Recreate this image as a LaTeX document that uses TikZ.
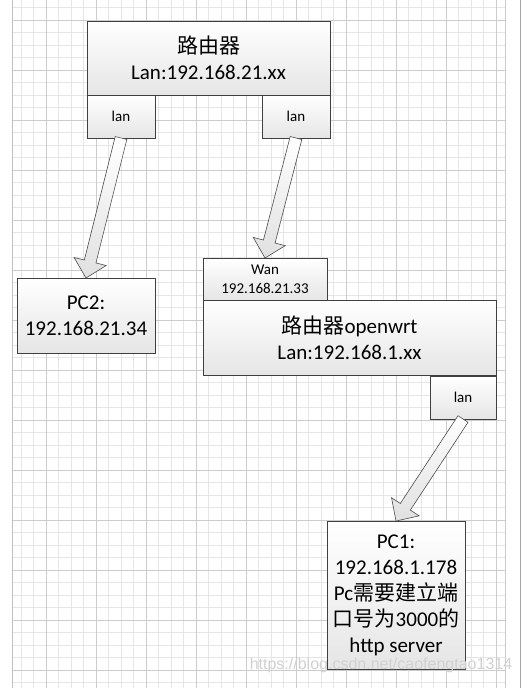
\documentclass[tikz,border=0pt]{standalone}
\usepackage{fontspec}
\setmainfont{Carlito}
\newfontfamily\cjk{Noto Sans CJK SC}
\newfontfamily\wmfont{Liberation Sans}
\usetikzlibrary{calc}
\newcommand\blockarr[2]{%
  \coordinate (nk) at ($(#2)!17pt!(#1)$);
  \path[blockarrow] ($(#1)!6pt!90:(#2)$) -- ($(nk)!6pt!90:(#2)$) -- ($(nk)!16.5pt!90:(#2)$)
    -- (#2) -- ($(nk)!16.5pt!-90:(#2)$) -- ($(nk)!6pt!-90:(#2)$) -- ($(#1)!6pt!-90:(#2)$) -- cycle;}
\begin{document}
\begin{tikzpicture}[x=1pt,y=-1pt,
  box/.style={draw=black!75, line width=0.8pt, top color=white, bottom color=black!10,
    anchor=north west, inner sep=0pt, outer sep=0pt, align=center,
    font=\fontsize{21}{26}\selectfont},
  smallbox/.style={box, font=\fontsize{15}{19}\selectfont},
  blockarrow/.style={draw=black!70, line width=0.6pt, top color=white, bottom color=black!12,
    line join=miter},
  minorline/.style={draw=black!10, line width=0.6pt},
  majorline/.style={draw=black!20, line width=0.6pt}]
\useasboundingbox (0,0) rectangle (522,688);
\fill[white] (0,0) rectangle (522,688);
% grid
\foreach \k in {0,...,38} { \draw[minorline] ({21+12.5*\k},0) -- ({21+12.5*\k},688); }
\foreach \k in {0,...,54} { \draw[minorline] (12,{7.5+12.5*\k}) -- (505,{7.5+12.5*\k}); }
\foreach \k in {0,...,9} { \draw[majorline] ({46+50*\k},0) -- ({46+50*\k},688); }
\foreach \k in {0,...,13} { \draw[majorline] (12,{20+50*\k}) -- (505,{20+50*\k}); }
\draw[draw=black!25, line width=0.8pt] (12,0) -- (12,688);
\draw[majorline] (505,0) -- (505,688);
\draw[draw=black!35, line width=1pt] (520,0) -- (520,688);

% nodes
\node[box, minimum width=243pt, minimum height=74pt] (r1) at (87,21)
  {{\cjk 路由器}\\Lan:192.168.21.xx};
\node[smallbox, minimum width=68pt, minimum height=43pt] (lanL) at (87,95) {lan};
\node[smallbox, minimum width=68pt, minimum height=43pt] (lanR) at (262,95) {lan};
\node[box, minimum width=138pt, minimum height=75pt] (pc2) at (17,278)
  {PC2:\\192.168.21.34};
\node[smallbox, minimum width=124pt, minimum height=42pt] (wan) at (203,258)
  {Wan\\192.168.21.33};
\node[box, minimum width=293pt, minimum height=75pt] (r2) at (203,300)
  {{\cjk 路由器}openwrt\\Lan:192.168.1.xx};
\node[smallbox, minimum width=66pt, minimum height=43pt] (lanB) at (430,376) {lan};
\node[box, minimum width=138pt, minimum height=148pt] (pc1) at (327,521)
  {PC1:\\192.168.1.178\\Pc{\cjk 需要建立端}\\{\cjk 口号为}3000{\cjk 的}\\http server};

% block arrows
\blockarr{lanL.south}{pc2.north}
\blockarr{lanR.south}{wan.north}
\blockarr{lanB.south}{pc1.north}

% watermark
\node[anchor=base, text=black!18, inner sep=0pt, font=\wmfont\fontsize{16}{16}\selectfont] (wm) at (381,669)
  {https://blog.csdn.net/caofengtao1314};
\end{tikzpicture}
\end{document}
